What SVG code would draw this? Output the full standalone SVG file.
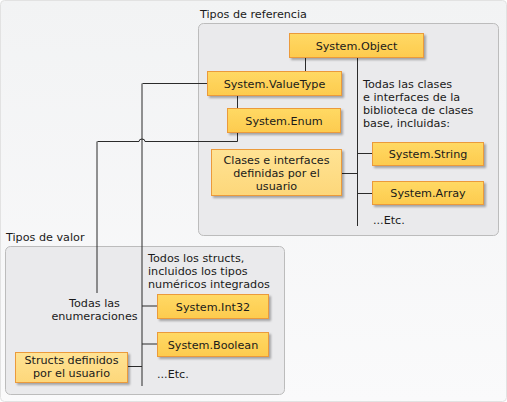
<svg xmlns="http://www.w3.org/2000/svg" width="507" height="402" viewBox="0 0 507 402">
<defs>
<linearGradient id="bg" x1="0" y1="0" x2="0" y2="1"><stop offset="0" stop-color="#f2f3f4"/><stop offset="1" stop-color="#fafafb"/></linearGradient>
<linearGradient id="box" x1="0" y1="0" x2="0" y2="1"><stop offset="0" stop-color="#ffd964"/><stop offset="1" stop-color="#fdcb4e"/></linearGradient>
<linearGradient id="box2" x1="0" y1="0" x2="0" y2="1"><stop offset="0" stop-color="#ffe394"/><stop offset="1" stop-color="#fdd77a"/></linearGradient>
<filter id="sh" x="-10%" y="-20%" width="130%" height="160%"><feDropShadow dx="2" dy="2" stdDeviation="1.2" flood-color="#000" flood-opacity="0.3"/></filter>
</defs>
<style>
text{font-family:"DejaVu Sans","Verdana",sans-serif;font-size:11.2px;fill:#1a1a1a}
.c{text-anchor:middle}
.b{fill:url(#box);stroke:#eb9a3a;stroke-width:1;filter:url(#sh)}
.b2{fill:url(#box2);stroke:#eb9a3a;stroke-width:1;filter:url(#sh)}
.p{fill:#eaeaec;stroke:#bcbcbc;stroke-width:1}
.l{fill:none;stroke:#2b2b2b;stroke-width:1}
</style>
<rect x="0.5" y="0.5" width="506" height="401" rx="4" fill="url(#bg)" stroke="#e2e2e2"/>
<g id="panel-ref">
<rect class="p" x="198.5" y="23.5" width="300" height="212" rx="5"/>
<text x="200" y="18">Tipos de referencia</text>
</g>
<g id="panel-val">
<rect class="p" x="5.5" y="246.5" width="279" height="148" rx="5"/>
<text x="6" y="241">Tipos de valor</text>
</g>
<g id="connectors">
<path class="l" d="M305.5 57V71"/>
<path class="l" d="M237.5 96V108"/>
<path class="l" d="M357.5 57V226"/>
<path class="l" d="M357.5 153.5H372"/>
<path class="l" d="M342 173.5H357.5"/>
<path class="l" d="M357.5 193.5H372"/>
<path class="l" d="M207 83.5H142.5"/>
<path class="l" d="M142 83.5V386"/>
<path class="l" d="M237.5 132V141.5H145A3 2.5 0 0 0 139 141.5H97.5"/>
<path class="l" d="M97 141.5V293"/>
<path class="l" d="M142 306H157"/>
<path class="l" d="M142 344H157"/>
<path class="l" d="M128 366.5H142"/>
</g>
<g id="n-object"><rect class="b" x="289.5" y="33.5" width="134" height="24"/><text class="c" x="356.5" y="50">System.Object</text></g>
<g id="n-valuetype"><rect class="b" x="207.5" y="71.5" width="134" height="24"/><text class="c" x="274.5" y="88">System.ValueType</text></g>
<g id="n-enum"><rect class="b" x="227.5" y="108.5" width="113" height="24"/><text class="c" x="284" y="125">System.Enum</text></g>
<g id="n-clases"><rect class="b2" x="211.5" y="149.5" width="130" height="46"/><text class="c" x="276.5" y="164">Clases e interfaces</text><text class="c" x="276.5" y="177">definidas por el</text><text class="c" x="276.5" y="190">usuario</text></g>
<g id="n-string"><rect class="b" x="372.5" y="142.5" width="111" height="23"/><text class="c" x="428" y="158">System.String</text></g>
<g id="n-array"><rect class="b" x="372.5" y="181.5" width="111" height="23"/><text class="c" x="428" y="197">System.Array</text></g>
<g id="t-bcl"><text x="363" y="88">Todas las clases</text><text x="363" y="101">e interfaces de la</text><text x="363" y="114">biblioteca de clases</text><text x="363" y="127">base, incluidas:</text></g>
<g id="t-etc1"><text x="373" y="224">...Etc.</text></g>
<g id="t-structs"><text x="148" y="262">Todos los structs,</text><text x="148" y="275">incluidos los tipos</text><text x="148" y="288">numéricos integrados</text></g>
<g id="t-enums"><text class="c" x="94.5" y="307">Todas las</text><text class="c" x="94.5" y="320">enumeraciones</text></g>
<g id="n-int32"><rect class="b" x="157.5" y="294.5" width="111" height="24"/><text class="c" x="213" y="311">System.Int32</text></g>
<g id="n-boolean"><rect class="b" x="157.5" y="332.5" width="111" height="24"/><text class="c" x="213" y="349">System.Boolean</text></g>
<g id="n-structs"><rect class="b2" x="15.5" y="352.5" width="112" height="30"/><text class="c" x="71.5" y="364">Structs definidos</text><text class="c" x="71.5" y="377">por el usuario</text></g>
<g id="t-etc2"><text x="157" y="378">...Etc.</text></g>
</svg>
